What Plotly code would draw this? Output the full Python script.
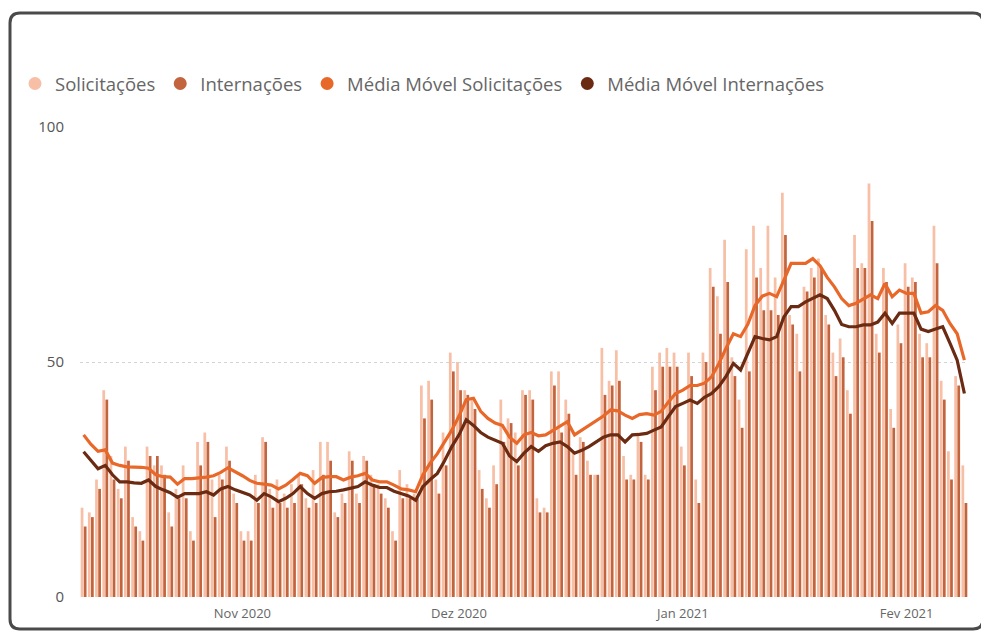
import pandas as pd
import plotly.graph_objects as go

start_date = "2020-10-10"
n_days = 123

solicitacoes = [19, 18, 25, 44, 30, 23, 32, 17, 14, 32, 28, 28, 18, 23, 28, 14, 33, 35, 25, 26,
                32, 22, 14, 14, 26, 34, 23, 25, 22, 24, 26, 21, 27, 33, 33, 18, 22, 31, 22, 30,
                26, 24, 21, 14, 27, 24, 22, 45, 46, 25, 35, 52, 50, 44, 42, 27, 21, 28, 42, 38,
                35, 44, 44, 21, 19, 48, 48, 42, 31, 34, 29, 26, 53, 46, 52.5, 30, 26, 35, 26, 49,
                52, 53, 52, 32, 52, 25, 52, 70, 64, 76, 51, 42, 74, 79, 70, 79, 68, 86, 60, 56,
                66, 70, 72, 60, 52, 55, 44, 77, 71, 88, 56, 70, 40, 58, 71, 68, 56, 54, 79, 46,
                31, 47, 28]

internacoes = [15, 17, 23, 42, 25, 21, 29, 15, 12, 30, 30, 26, 15, 21, 21, 12, 28, 33, 17, 25,
               29, 20, 12, 12, 20, 33, 19, 20, 19, 20, 24, 19, 20, 26, 29, 17, 20, 29, 20, 29,
               24, 22, 19, 12, 21, 21, 21, 38, 42, 22, 28, 48, 44, 43, 40, 23, 19, 24, 33, 37,
               28, 43, 42, 18, 18, 45, 35, 39, 26, 33, 26, 26, 43, 45, 46, 25, 25, 33, 25, 44,
               49, 49, 49, 28, 47, 20, 50, 66, 56, 67, 47, 36, 48, 68, 61, 61, 60, 77, 58, 48,
               65, 68, 70, 58, 47, 51, 39, 70, 70, 80, 52, 67, 36, 54, 66, 67, 51, 51, 71, 42,
               25, 45, 20]

mm_solicitacoes = [34.5, 32.5, 31, 31.3, 28.5, 28, 27.7, 27.7, 27.6, 27.4, 26, 25.6, 25.5, 24, 25.2,
                   25.2, 25.3, 25.5, 25.8, 26.5, 27.5, 26.7, 25.8, 24.8, 24.2, 24, 23.8, 23, 23.8, 25,
                   26.3, 25.8, 24.2, 25.4, 25.6, 25.6, 24.9, 25.5, 25.8, 26.3, 24.9, 24.5, 24.5, 23.8, 23,
                   22.8, 22.4, 26, 28.5, 30.5, 33, 35.5, 38.5, 42, 42.3, 39.5, 38, 37, 36.5, 34,
                   32.7, 34.5, 35, 34.3, 34.5, 35.5, 36.5, 37.3, 34.5, 35.5, 36.5, 37.3, 38.5, 39.8, 39.6,
                   38.7, 38, 38.8, 39, 38.7, 39.5, 41.5, 43.3, 44, 45, 45, 45.5, 46.9, 49.7, 53,
                   56, 55.4, 58, 62, 64, 64.6, 63.9, 67.4, 71, 71, 71, 72, 70.5, 68, 66,
                   63.5, 62, 62.5, 63.5, 64.3, 63.5, 66.7, 63.9, 65.3, 64.6, 64.6, 60.4, 60.7, 62, 61,
                   58.2, 56, 50.4]

mm_internacoes = [30.9, 29, 27.3, 28, 26, 24.5, 24.5, 24.3, 24.2, 24.9, 23.5, 22.8, 22.2, 21.2, 22,
                  22, 22, 22.4, 21.7, 23, 23.5, 22.8, 22.2, 21.7, 20.6, 22, 21.3, 20.3, 21, 22,
                  23.5, 22, 21, 22, 22.4, 22.5, 22.8, 23.2, 23.5, 24.5, 23.8, 23.3, 23.3, 22.5, 22,
                  21.5, 20.6, 23.5, 25, 26.3, 29, 32, 34.5, 37.7, 36.5, 35, 34, 33.4, 32.7, 30,
                  28.8, 30.6, 32, 31, 32.2, 32.7, 33, 32, 30.6, 31.2, 32, 33, 34, 34.5, 34.5,
                  33, 34.5, 34.6, 34.8, 35.5, 36.2, 38.4, 40.5, 41.2, 41.9, 41.2, 42.5, 43.3, 44.8, 47,
                  49.7, 48.3, 51.8, 55.4, 55, 54.7, 55.4, 59.6, 61.8, 61.8, 62.8, 63.5, 64.3, 63.5, 61,
                  58, 57.5, 57.5, 57.9, 57.9, 58.5, 60.4, 58.2, 60.4, 60.4, 60.4, 57, 56.5, 57, 57.5,
                  54, 50.4, 43.3]

month_ticks = ["2020-11-01", "2020-12-01", "2021-01-01", "2021-02-01"]
month_labels = ["Nov 2020", "Dez 2020", "Jan 2021", "Fev 2021"]
y_ticks = [0, 50, 100]

series_names = ["Solicitações", "Internações", "Média Móvel Solicitações", "Média Móvel Internações"]
colors = ["#F7BFA6", "#C2643D", "#E8682A", "#6B2A12"]

dates = pd.date_range(start_date, periods=n_days, freq="D")

fig = go.Figure()
fig.add_trace(go.Bar(x=dates, y=solicitacoes, name=series_names[0], marker_color=colors[0],
                     marker_line_width=0, showlegend=False))
fig.add_trace(go.Bar(x=dates, y=internacoes, name=series_names[1], marker_color=colors[1],
                     marker_line_width=0, showlegend=False))
fig.add_trace(go.Scatter(x=dates, y=mm_solicitacoes, name=series_names[2], mode="lines",
                         line=dict(color=colors[2], width=3.2), showlegend=False))
fig.add_trace(go.Scatter(x=dates, y=mm_internacoes, name=series_names[3], mode="lines",
                         line=dict(color=colors[3], width=3.2), showlegend=False))

# legend entries with circular markers
for nm, c in zip(series_names, colors):
    fig.add_trace(go.Scatter(x=[None], y=[None], mode="markers", name=nm,
                             marker=dict(symbol="circle", size=13, color=c)))

# page body has an 8px margin: figure origin sits at (8, 8) in the window
OFF = 8
W, H = 989 - OFF, 631 - OFF
L, R, T, B = 80, 968, 127, 597          # plot area in window pixels
def px(xp):
    return (xp - L) / (R - L)
def py(yp):
    return (B - yp) / (B - T)
x0, x1, y0, y1 = px(10), px(983), py(629), py(13)
rx, ry = 10 / (R - L), 10 / (B - T)
path = (f"M {x0+rx},{y1} L {x1-rx},{y1} Q {x1},{y1} {x1},{y1-ry} "
        f"L {x1},{y0+ry} Q {x1},{y0} {x1-rx},{y0} "
        f"L {x0+rx},{y0} Q {x0},{y0} {x0},{y0+ry} "
        f"L {x0},{y1-ry} Q {x0},{y1} {x0+rx},{y1} Z")
fig.add_shape(type="path", path=path, xref="paper", yref="paper",
              line=dict(color="#4a4a4a", width=3), layer="above")

x_start = dates[0] - pd.Timedelta(hours=12)
x_end = dates[-1] + pd.Timedelta(hours=12)

fig.update_layout(
    width=W, height=H,
    margin=dict(l=L - OFF, r=989 - R, t=T - OFF, b=631 - B),
    paper_bgcolor="white", plot_bgcolor="white",
    barmode="group", bargap=0.14, bargroupgap=0.12,
    font=dict(family="Segoe UI, Open Sans, sans-serif", color="#666666"),
    legend=dict(orientation="h", xref="container", yref="container",
                x=(15 - OFF) / W, y=1 - (84 - OFF) / H, xanchor="left", yanchor="middle",
                font=dict(size=18.5, color="#666666"), itemwidth=30,
                bgcolor="rgba(0,0,0,0)", traceorder="normal"),
    xaxis=dict(type="date", range=[x_start, x_end], tickvals=month_ticks, ticktext=month_labels,
               showgrid=False, zeroline=False, showline=False, ticks="", automargin=False,
               ticklabelstandoff=7, tickfont=dict(size=13, color="#666666")),
    yaxis=dict(range=[0, 100], tickvals=y_ticks, showgrid=True, gridcolor="#d4d4d4",
               griddash="dot", gridwidth=1, zeroline=False, showline=False, ticks="",
               automargin=False,
               ticklabelstandoff=15, tickfont=dict(size=15, color="#555555")),
)

fig.write_html("out.html")
